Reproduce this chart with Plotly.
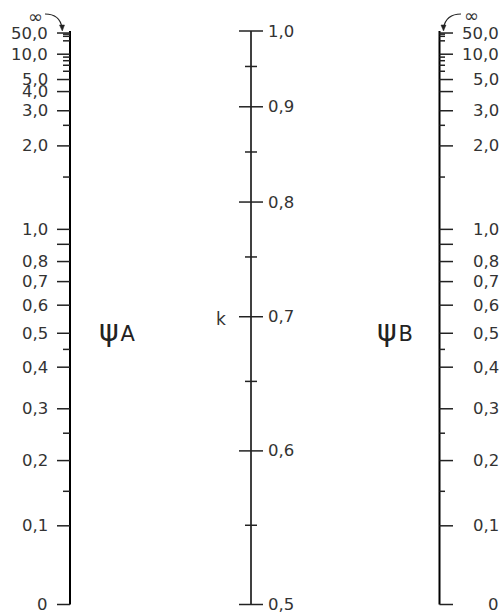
import plotly.graph_objects as go

# ---------------- data ----------------
psi_major = [0, 0.1, 0.2, 0.3, 0.4, 0.5, 0.6, 0.7, 0.8, 1.0, 2.0, 3.0, 4.0, 5.0, 10.0, 50.0]
psiA_labels = ["0", "0,1", "0,2", "0,3", "0,4", "0,5", "0,6", "0,7", "0,8", "1,0",
               "2,0", "3,0", "4,0", "5,0", "10,0", "50,0"]
psiB_labels = ["0", "0,1", "0,2", "0,3", "0,4", "0,5", "0,6", "0,7", "0,8", "1,0",
               "2,0", "3,0", "", "5,0", "10,0", "50,0"]
psi_long_unlabeled = [0.9]
psi_minor = [0.15, 0.25, 0.45, 1.5, 2.5, 6, 7, 8, 9, 20, 30, 40]

k_major = [0.5, 0.6, 0.7, 0.8, 0.9, 1.0]
k_labels = ["0,5", "0,6", "0,7", "0,8", "0,9", "1,0"]
k_minor = [0.55, 0.65, 0.75, 0.85, 0.95]


# ---------------- nomograph scales (value -> fraction of scale length) ----------------
def psi_scale(v):
    s = 1.89 * v ** 1.075 + 0.00125 * v ** 3
    return s / (1 + s)


def k_scale(v):
    t = (v - 0.5) / 0.5
    return t * (1 + 0.424 * (1 - t))


W, H = 499, 613
FONT = "DejaVu Sans"
TXT = "#333333"
TICK = "#222222"

# axis x positions (pixels)
XA, XK, XB = 70, 251, 439.5


def seg_trace(x0, x1, us, width=1.5, color=TICK):
    xs, ys = [], []
    for u in us:
        xs += [x0, x1, None]
        ys += [u, u, None]
    return go.Scatter(x=xs, y=ys, mode="lines", line=dict(color=color, width=width),
                      hoverinfo="skip", showlegend=False)


fig = go.Figure()

# axis lines
for x, w in [(XA, 2), (XK, 1.5), (XB, 2)]:
    fig.add_trace(go.Scatter(x=[x, x], y=[0, 1], mode="lines",
                             line=dict(color="black", width=w),
                             hoverinfo="skip", showlegend=False))

psi_long = [psi_scale(v) for v in psi_major + psi_long_unlabeled]
psi_short = [psi_scale(v) for v in psi_minor]

# psi A ticks (left)
fig.add_trace(seg_trace(57, XA, psi_long))
fig.add_trace(seg_trace(63, XA, psi_short))
# psi B ticks (right)
fig.add_trace(seg_trace(XB, 453, psi_long))
fig.add_trace(seg_trace(XB, 445, psi_short))
# k ticks (middle, crossing)
fig.add_trace(seg_trace(239, 263, [k_scale(v) for v in k_major]))
fig.add_trace(seg_trace(245, 257, [k_scale(v) for v in k_minor]))


def py(p):
    """pixel row -> paper y"""
    return 1 - p / H


def px(x):
    """pixel column -> paper x"""
    return x / W


annotations = []
lab_font = dict(family=FONT, size=16.5, color=TXT)
for v, t in zip(psi_major, psiA_labels):
    annotations.append(dict(x=50, y=psi_scale(v), text=t, xanchor="right", yanchor="middle",
                            showarrow=False, font=lab_font, xref="x", yref="y"))
for v, t in zip(psi_major, psiB_labels):
    if t:
        annotations.append(dict(x=px(500.5), y=psi_scale(v), text=t, xanchor="right",
                                yanchor="middle", showarrow=False, font=lab_font,
                                xref="paper", yref="y"))
for v, t in zip(k_major, k_labels):
    annotations.append(dict(x=266, y=k_scale(v), text=t, xanchor="left", yanchor="middle",
                            showarrow=False, font=lab_font, xref="x", yref="y"))

# axis titles
annotations.append(dict(x=227.5, y=py(319), xref="x", yref="paper", text="k",
                        xanchor="right", yanchor="middle", showarrow=False,
                        font=dict(family=FONT, size=17, color=TXT)))
psi_txt = "ψ<span style='font-size:5px'> </span><span style='font-size:21px'>{}</span>"
annotations.append(dict(x=97, y=py(330), yref="paper", xref="x",
                        text=psi_txt.format("A"),
                        xanchor="left", yanchor="middle", showarrow=False,
                        font=dict(family=FONT, size=30, color="#222222")))
annotations.append(dict(x=375, y=py(330), yref="paper", xref="x",
                        text=psi_txt.format("B"),
                        xanchor="left", yanchor="middle", showarrow=False,
                        font=dict(family=FONT, size=30, color="#222222")))
# infinity marks
annotations.append(dict(x=35, y=py(17), yref="paper", xref="x", text="∞",
                        xanchor="center", yanchor="middle", showarrow=False,
                        font=dict(family=FONT, size=18, color=TXT)))
annotations.append(dict(x=471, y=py(15), yref="paper", xref="x", text="∞",
                        xanchor="center", yanchor="middle", showarrow=False,
                        font=dict(family=FONT, size=18, color=TXT)))


def P(x, y):
    return f"{x},{py(y):.5f}"


shapes = [
    dict(type="path", xref="x", yref="paper",
         path=f"M {P(45, 14)} Q {P(60, 14)} {P(62, 28)}",
         line=dict(color="#222222", width=1.2)),
    dict(type="path", xref="x", yref="paper",
         path=f"M {P(59.5, 25)} L {P(64.5, 25)} L {P(62.3, 31)} Z",
         line=dict(color="#222222", width=0.5), fillcolor="#222222"),
    dict(type="path", xref="x", yref="paper",
         path=f"M {P(461, 14)} Q {P(446, 14)} {P(443.5, 28)}",
         line=dict(color="#222222", width=1.2)),
    dict(type="path", xref="x", yref="paper",
         path=f"M {P(441, 25)} L {P(446, 25)} L {P(443.5, 31)} Z",
         line=dict(color="#222222", width=0.5), fillcolor="#222222"),
]

# y axis in scale-fraction units: u=0 at pixel row 604.5, u=1 at pixel row 31
u_per_px = 1 / 573.5
y_top = 604.5 * u_per_px
y_bot = (604.5 - H) * u_per_px

fig.update_layout(
    width=W, height=H,
    margin=dict(l=0, r=0, t=0, b=0),
    paper_bgcolor="white", plot_bgcolor="white",
    showlegend=False,
    hovermode=False,
    xaxis=dict(visible=False, range=[0, W], fixedrange=True),
    yaxis=dict(visible=False, range=[y_bot, y_top], fixedrange=True),
    annotations=annotations,
    shapes=shapes,
)

fig.write_html("out.html",
               config={"displayModeBar": False, "staticPlot": True},
               post_script="document.body.style.margin='0';"
                           "document.body.style.overflow='hidden';")
